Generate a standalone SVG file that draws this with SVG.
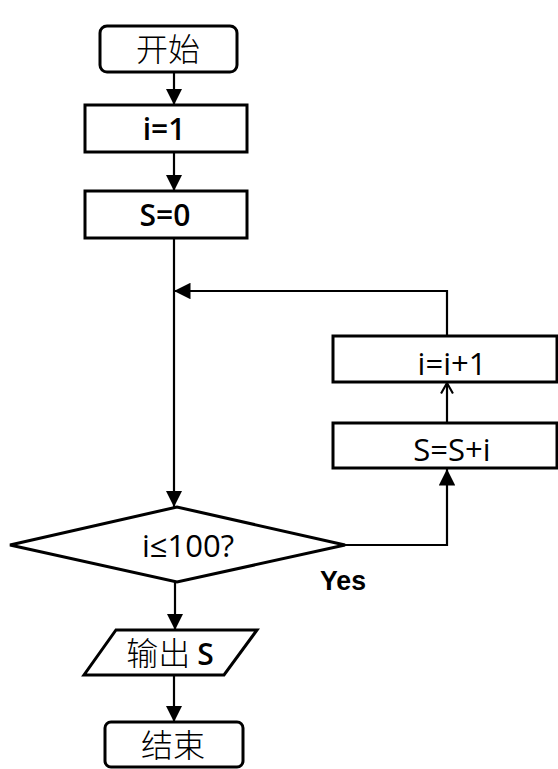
<svg xmlns="http://www.w3.org/2000/svg" width="558" height="769" viewBox="0 0 558 769">
<style>
.box{fill:#fff;stroke:#000;stroke-width:3}
.ln{fill:none;stroke:#000;stroke-width:2.2}
.t{font-family:"Open Sans","DejaVu Sans",sans-serif;font-size:31px;text-anchor:middle;fill:#000}
.tb{font-weight:600;font-size:30px}
.cn{font-family:"Noto Sans CJK SC","Noto Sans",sans-serif;font-size:32px;font-weight:300;text-anchor:middle;fill:#000}
</style>
<defs>
<marker id="ah" viewBox="0 0 10 10" refX="10" refY="5" markerWidth="7.5" markerHeight="7.5" markerUnits="strokeWidth" orient="auto">
<path d="M0,0 L10,5 L0,10 Z" fill="#000"/>
</marker>
<marker id="oh" viewBox="0 0 10 10" refX="9" refY="5" markerWidth="6" markerHeight="6" markerUnits="strokeWidth" orient="auto">
<path d="M1,0.5 L9,5 L1,9.5" fill="none" stroke="#000" stroke-width="1.6"/>
</marker>
</defs>
<g id="connectors">
<line class="ln" x1="174" y1="73" x2="174" y2="105" marker-end="url(#ah)"/>
<line class="ln" x1="174" y1="152" x2="174" y2="191" marker-end="url(#ah)"/>
<line class="ln" x1="174" y1="238" x2="174" y2="507" marker-end="url(#ah)"/>
<polyline class="ln" points="447,336 447,291 174,291" marker-end="url(#ah)"/>
<line class="ln" x1="447" y1="423" x2="447" y2="383" marker-end="url(#oh)"/>
<polyline class="ln" points="345,545 447,545 447,469" marker-end="url(#ah)"/>
<line class="ln" x1="175" y1="582" x2="175" y2="630" marker-end="url(#ah)"/>
<line class="ln" x1="174" y1="675" x2="174" y2="722" marker-end="url(#ah)"/>
</g>
<g id="start">
<rect class="box" x="100" y="26" width="137" height="46" rx="7"/>
<text class="cn" x="168" y="61">开始</text>
</g>
<g id="init-i">
<rect class="box" x="85" y="105" width="162" height="47"/>
<text class="t tb" x="164" y="140">i=1</text>
</g>
<g id="init-s">
<rect class="box" x="85" y="191" width="162" height="47"/>
<text class="t tb" x="165" y="226">S=0</text>
</g>
<g id="inc">
<rect class="box" x="333" y="336" width="224" height="46"/>
<text class="t" x="452" y="375">i=i+1</text>
</g>
<g id="sum">
<rect class="box" x="333" y="423" width="224" height="45"/>
<text class="t" x="452" y="461">S=S+i</text>
</g>
<g id="cond">
<polygon class="box" points="10,545 177,507 345,545 177,582"/>
<text class="t" x="188" y="557">i≤100?</text>
</g>
<text x="320" y="590" font-family="Liberation Sans,Arial,sans-serif" font-size="28" font-weight="bold" textLength="46" lengthAdjust="spacingAndGlyphs">Yes</text>
<g id="output">
<polygon class="box" points="116,630 257,630 224,675 84,675"/>
<text class="cn" x="170" y="665">输出 <tspan font-family="Open Sans,sans-serif" font-weight="600" font-size="30">S</tspan></text>
</g>
<g id="end">
<rect class="box" x="105" y="722" width="138" height="45" rx="6"/>
<text class="cn" x="173" y="757">结束</text>
</g>
</svg>
